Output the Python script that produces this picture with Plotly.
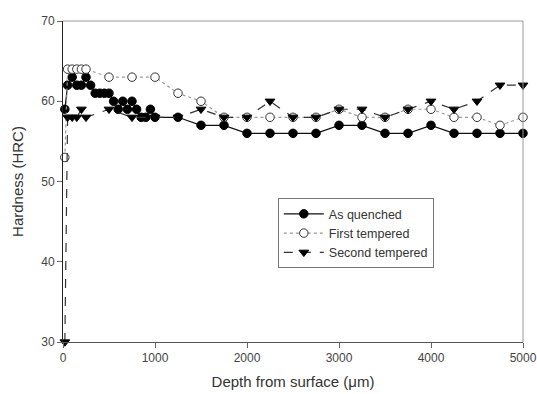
import plotly.graph_objects as go

# Data
aq_x = [20, 50, 100, 150, 200, 250, 300, 350, 400, 450, 500, 550, 600, 650, 700, 750, 800, 850, 900, 950, 1000,
        1250, 1500, 1750, 2000, 2250, 2500, 2750, 3000, 3250, 3500, 3750, 4000, 4250, 4500, 4750, 5000]
aq_y = [59, 62, 63, 62, 62, 63, 62, 61, 61, 61, 61, 60, 59, 60, 59, 60, 59, 58, 58, 59, 58,
        58, 57, 57, 56, 56, 56, 56, 57, 57, 56, 56, 57, 56, 56, 56, 56]

ft_x = [20, 50, 100, 150, 200, 250, 500, 750, 1000, 1250, 1500, 1750, 2000, 2250, 2500, 2750, 3000,
        3250, 3500, 3750, 4000, 4250, 4500, 4750, 5000]
ft_y = [53, 64, 64, 64, 64, 64, 63, 63, 63, 61, 60, 58, 58, 58, 58, 58, 59,
        58, 58, 59, 59, 58, 58, 57, 58]

st_x = [20, 50, 100, 150, 200, 250, 500, 750, 1000, 1250, 1500, 1750, 2000, 2250, 2500, 2750, 3000,
        3250, 3500, 3750, 4000, 4250, 4500, 4750, 5000]
st_y = [30, 58, 58, 58, 59, 58, 59, 58, 58, 58, 59, 58, 58, 60, 58, 58, 59,
        59, 58, 59, 60, 59, 60, 62, 62]

x_ticks = [0, 1000, 2000, 3000, 4000, 5000]
y_ticks = [30, 40, 50, 60, 70]

FONT = "Liberation Sans, Arial, sans-serif"

fig = go.Figure()
fig.add_trace(go.Scatter(
    x=aq_x, y=aq_y, name="As quenched", mode="lines+markers",
    line=dict(color="#111111", width=1.2),
    marker=dict(symbol="circle", size=8.5, color="#000000", line=dict(color="#000000", width=1)),
    cliponaxis=False))
fig.add_trace(go.Scatter(
    x=ft_x, y=ft_y, name="First tempered", mode="lines+markers",
    line=dict(color="#999999", width=1.2, dash="dot"),
    marker=dict(symbol="circle", size=8.5, color="#ffffff", line=dict(color="#333333", width=1)),
    cliponaxis=False))
fig.add_trace(go.Scatter(
    x=st_x, y=st_y, name="Second tempered", mode="lines+markers",
    line=dict(color="#333333", width=1.2, dash="dash"),
    marker=dict(symbol="triangle-down", size=8.5, color="#000000", line=dict(color="#000000", width=1)),
    cliponaxis=False))

fig.update_layout(
    width=537, height=394,
    margin=dict(l=63, r=14, t=21, b=52),
    paper_bgcolor="white", plot_bgcolor="white",
    font=dict(family=FONT, size=12, color="#444444"),
    showlegend=True,
    legend=dict(x=0.467, y=0.448, xanchor="left", yanchor="top",
                bordercolor="#777777", borderwidth=1, bgcolor="white",
                font=dict(size=12.5, color="#333333"), tracegroupgap=0, itemwidth=40),
)
fig.update_xaxes(
    range=[0, 5000], tickvals=x_ticks, ticks="outside", ticklen=5, tickcolor="#666666",
    showgrid=False, zeroline=False, showline=True, linecolor="#555555", linewidth=1, mirror=False,
    tickfont=dict(size=12, color="#444444"), automargin=False,
    title=dict(text="Depth from surface (μm)", font=dict(size=15, color="#333333"), standoff=12))
fig.update_yaxes(
    range=[30, 70], tickvals=y_ticks, ticks="outside", ticklen=5, tickcolor="#666666",
    showgrid=False, zeroline=False, showline=True, linecolor="#222222", linewidth=1, mirror=False,
    tickfont=dict(size=12, color="#444444"), automargin=False,
    title=dict(text="Hardness (HRC)", font=dict(size=15, color="#333333"), standoff=13))

# top and right frame lines (lighter grey)
fig.add_shape(type="line", xref="paper", yref="paper", x0=0, x1=1, y0=1, y1=1,
              line=dict(color="#999999", width=1))
fig.add_shape(type="line", xref="paper", yref="paper", x0=1, x1=1, y0=0, y1=1,
              line=dict(color="#999999", width=1))

fig.write_html("out.html", config={"displayModeBar": False},
               post_script="document.body.style.margin='0';document.body.style.padding='0';")
